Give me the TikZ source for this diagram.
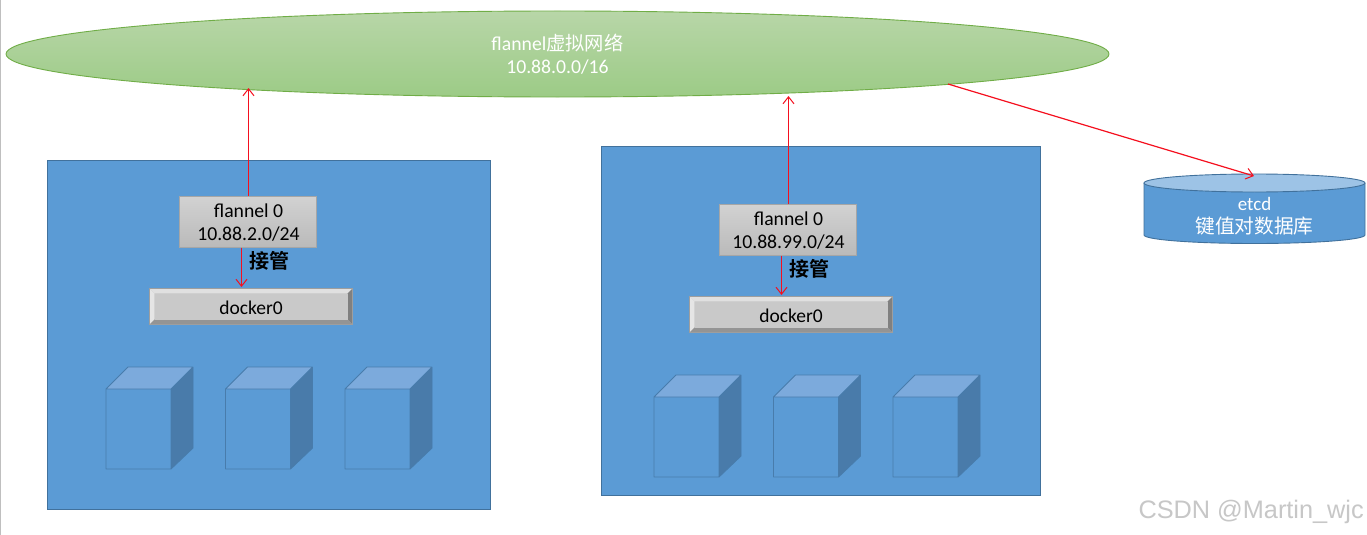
\documentclass[tikz,border=0pt]{standalone}
\usepackage{fontspec}
\setmainfont{Carlito}
\newfontfamily\cjk{Noto Sans CJK SC}
\newfontfamily\cjkb{Noto Sans CJK SC Bold}
\newfontfamily\wmfont{Liberation Sans}
\usetikzlibrary{shapes.geometric,arrows.meta}
\definecolor{hostblue}{HTML}{5B9BD5}
\definecolor{hostedge}{HTML}{41719C}
\definecolor{cubetop}{HTML}{7CAADC}
\definecolor{cubeside}{HTML}{497BAA}
\definecolor{cubeline}{HTML}{487CAC}
\definecolor{ellgreen}{HTML}{70AD47}
\definecolor{elltop}{HTML}{B8D6A8}
\definecolor{ellbot}{HTML}{9CCB86}
\definecolor{dbtop}{HTML}{9DC3E6}
\definecolor{flantop}{HTML}{D2D2D2}
\definecolor{flanbot}{HTML}{BABABA}
\tikzset{
  x=1pt,y=-1pt,
  hostbox/.style={draw=hostedge,fill=hostblue,line width=0.8pt},
  flanbox/.style={draw=black!35,line width=1pt,top color=flantop,bottom color=flanbot,
    minimum width=137pt,minimum height=51pt,inner sep=0pt},
  flantext/.style={text=black,inner sep=0pt,align=center,font=\fontsize{19.7}{23}\selectfont},
  dockbox/.style={minimum width=203pt,minimum height=36pt,inner sep=0pt,text=black,font=\fontsize{19.5}{22}\selectfont},
  redarrow/.style={draw={rgb,255:red,245;green,15;blue,30},line width=1.2pt,-{Straight Barb[length=7pt,width=11pt,line width=1pt]}},
  boldlabel/.style={font=\cjkb\fontsize{20}{22}\selectfont,text=black,inner sep=0pt},
  pics/hostcube/.style={code={
    \fill[cubetop] (0,22) -- (22,0) -- (87,0) -- (65,22) -- cycle;
    \fill[cubeside] (65,22) -- (87,0) -- (87,81) -- (65,102) -- cycle;
    \draw[cubeline,line width=0.9pt,line join=round] (0,22) -- (22,0) -- (87,0) -- (87,81) -- (65,102) -- (0,102) -- cycle (0,22) -- (65,22) -- (65,102) (65,22) -- (87,0);
  }},
  pics/bevel/.style={code={
    \fill[black!30] (0,0) rectangle (203,36);
    \fill[black!12] (0,0) -- (203,0) -- (198,5) -- (5,5) -- cycle;
    \fill[black!10] (0,0) -- (5,5) -- (5,31) -- (0,36) -- cycle;
    \fill[black!50] (203,0) -- (198,5) -- (198,31) -- (203,36) -- cycle;
    \fill[black!42] (0,36) -- (5,31) -- (198,31) -- (203,36) -- cycle;
    \fill[black!21] (5,5) rectangle (198,31);
    \draw[black!38,line width=0.8pt] (0,0) rectangle (203,36);
  }}
}
\begin{document}
\begin{tikzpicture}
\useasboundingbox (0,0) rectangle (1367,535);
\fill[white] (0,0) rectangle (1367,535);
\draw[black!25,line width=1.2pt] (0.5,0) -- (0.5,535);

% green ellipse
\node[ellipse,draw=ellgreen,line width=0.9pt,top color=elltop,bottom color=ellbot,
  minimum width=1103pt,minimum height=86pt,inner sep=0pt] (net) at (557.5,54) {};
\node[text=white,align=center,inner sep=0pt,font=\fontsize{19.7}{23}\selectfont] (nettext) at (557.5,54) {flannel{\cjk\fontsize{19.3}{23}\selectfont 虚拟网络}\\10.88.0.0/16};

% hosts
\node[hostbox,anchor=north west,minimum width=443pt,minimum height=349pt,inner sep=0pt] (host1) at (47,159.5) {};
\node[hostbox,anchor=north west,minimum width=439pt,minimum height=349pt,inner sep=0pt] (host2) at (601,146) {};

% flannel
\node[flanbox] (flan1) at (248,221.5) {};
\node[flanbox] (flan2) at (788,229.5) {};
\node[flantext] (flan1t) at (248.5,223) {flannel 0\\10.88.2.0/24};
\node[flantext] (flan2t) at (788.5,231) {flannel 0\\10.88.99.0/24};

% docker
\pic at (149.5,288.5) {bevel};
\pic at (689.5,296.5) {bevel};
\node[dockbox] (dock1) at (251,307.5) {docker0};
\node[dockbox] (dock2) at (791,315.5) {docker0};

% cubes
\foreach \cx in {106,225.5,345} {\pic at (\cx,367) {hostcube};}
\foreach \cx in {654,773.5,893} {\pic at (\cx,375) {hostcube};}

% etcd
\fill[hostblue] (1144,183) -- (1144,235) arc[start angle=180,end angle=0,x radius=110.5,y radius=8.5] -- (1365,183) -- cycle;
\draw[hostedge,line width=0.9pt] (1144,183) -- (1144,235) arc[start angle=180,end angle=0,x radius=110.5,y radius=8.5] -- (1365,183);
\node[ellipse,draw=hostedge,line width=0.9pt,fill=dbtop,minimum width=221pt,minimum height=18pt,inner sep=0pt] (dbtop) at (1254.5,183) {};
\node[text=white,font=\fontsize{19}{22}\selectfont,inner sep=0pt] (etcd) at (1254.5,203.5) {etcd};
\node[text=white,font=\cjk\fontsize{19.7}{24}\selectfont,inner sep=0pt] (etcdcn) at (1254.5,226) {键值对数据库};

% connectors
\coordinate (a1) at (248.5,88);
\coordinate (a2) at (788.5,96);
\coordinate (a3) at (948,84);
\coordinate (a4) at (1254,176);
\coordinate (d1) at (241.5,287);
\coordinate (d2) at (781.5,295);
\draw[redarrow] (flan1.north -| a1) -- (a1);
\draw[redarrow] (flan2.north -| a2) -- (a2);
\draw[redarrow] (a3) -- (a4);
\draw[redarrow] (flan1.south -| d1) -- (d1);
\draw[redarrow] (flan2.south -| d2) -- (d2);

\node[boldlabel] (lab1) at (269,261) {接管};
\node[boldlabel] (lab2) at (809,269) {接管};

\node[text=black!22,font=\wmfont\fontsize{25.3}{28}\selectfont,anchor=east,inner sep=0pt] (wm) at (1364,512) {CSDN @Martin\_wjc};
\end{tikzpicture}
\end{document}
